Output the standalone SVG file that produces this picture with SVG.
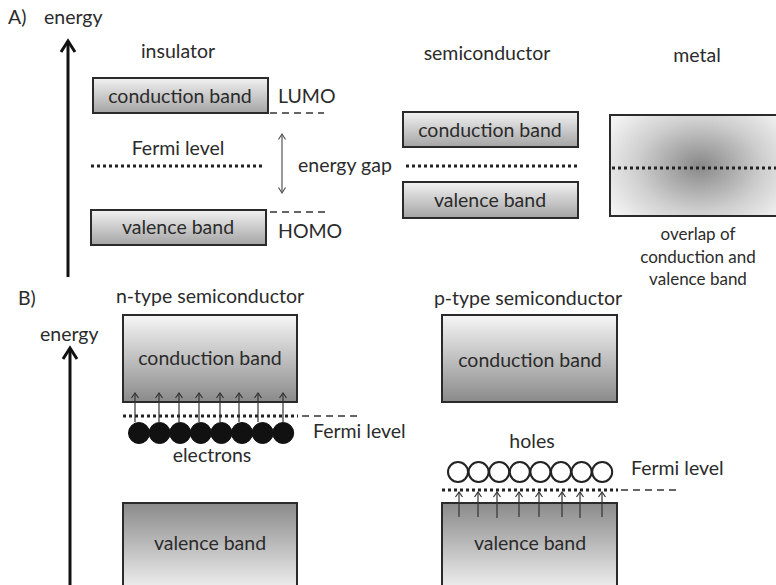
<svg xmlns="http://www.w3.org/2000/svg" width="776" height="585" viewBox="0 0 776 585">
<defs>
<style>
text{font-family:Lato,"Open Sans","Liberation Sans",sans-serif;fill:#2b2b2b;font-size:19.5px}
.m{text-anchor:middle}
.sm{font-size:17px}
.box{stroke:#2a2a2a;stroke-width:2}
.dot{stroke:#222;stroke-width:3;stroke-dasharray:3 3;fill:none}
.dash{stroke:#333;stroke-width:1.5;stroke-dasharray:7 5;fill:none}
.ax{stroke:#111;stroke-width:3;fill:none}
.sa{stroke:#333;stroke-width:1.2;fill:none;marker-end:url(#oa)}
.el{fill:#111;stroke:#111;stroke-width:1}
.ho{fill:#fff;stroke:#222;stroke-width:2}
</style>
<linearGradient id="gA" x1="0" y1="0" x2="0" y2="1"><stop offset="0" stop-color="#f2f2f2"/><stop offset="1" stop-color="#a4a4a4"/></linearGradient>
<linearGradient id="gDown" x1="0" y1="0" x2="0" y2="1"><stop offset="0" stop-color="#f6f6f6"/><stop offset="1" stop-color="#8a8a8a"/></linearGradient>
<linearGradient id="gUp" x1="0" y1="0" x2="0" y2="1"><stop offset="0" stop-color="#8a8a8a"/><stop offset="1" stop-color="#f6f6f6"/></linearGradient>
<radialGradient id="gM" gradientUnits="userSpaceOnUse" cx="700" cy="166" r="105" gradientTransform="translate(700 166) scale(1 0.72) translate(-700 -166)"><stop offset="0" stop-color="#888"/><stop offset="0.6" stop-color="#cfcfcf"/><stop offset="1" stop-color="#f2f2f2"/></radialGradient>
<marker id="oa" markerUnits="userSpaceOnUse" markerWidth="10" markerHeight="10" refX="6" refY="4" orient="auto-start-reverse" overflow="visible"><path d="M1,0.5 L6,4 L1,7.5" fill="none" stroke="#333" stroke-width="1.2"/></marker>
<marker id="ga" markerUnits="userSpaceOnUse" markerWidth="10" markerHeight="10" refX="6" refY="4" orient="auto-start-reverse" overflow="visible"><path d="M0.5,0.5 L6,4 L0.5,7.5" fill="none" stroke="#555" stroke-width="1.2"/></marker>
</defs>
<rect width="776" height="585" fill="#fff"/>

<g id="labels">
<text x="8" y="24">A)</text>
<text x="44" y="24">energy</text>
<text x="18" y="305">B)</text>
<text x="40" y="341">energy</text>
</g>

<g id="insulator">
<text class="m" x="178" y="58">insulator</text>
<rect class="box" x="93" y="78" width="175" height="35" fill="url(#gA)"/>
<text class="m" x="180" y="103">conduction band</text>
<text x="278" y="103">LUMO</text>
<line class="dash" x1="270" y1="113" x2="324" y2="113"/>
<text class="m" x="178" y="155">Fermi level</text>
<line class="dot" x1="91" y1="166" x2="264" y2="166"/>
<text x="298" y="172">energy gap</text>
<line class="dash" x1="270" y1="212" x2="326" y2="212"/>
<rect class="box" x="91" y="210" width="175" height="35" fill="url(#gA)"/>
<text class="m" x="178" y="234">valence band</text>
<text x="278" y="238">HOMO</text>
</g>

<g id="semiconductor">
<text class="m" x="487" y="60">semiconductor</text>
<rect class="box" x="403" y="112" width="175" height="35" fill="url(#gA)"/>
<text class="m" x="490" y="137">conduction band</text>
<line class="dot" x1="406" y1="166" x2="579" y2="166"/>
<rect class="box" x="403" y="182" width="175" height="36" fill="url(#gA)"/>
<text class="m" x="490" y="207">valence band</text>
</g>

<g id="metal">
<text class="m" x="697" y="62">metal</text>
<rect class="box" x="610" y="115" width="172" height="101" fill="url(#gM)"/>
<line class="dot" x1="612" y1="168" x2="776" y2="168"/>
<text class="m sm" x="698" y="240">overlap of</text>
<text class="m sm" x="698" y="263">conduction and</text>
<text class="m sm" x="698" y="285">valence band</text>
</g>

<g id="n-type">
<text class="m" x="210" y="303">n-type semiconductor</text>
<rect class="box" x="123" y="315" width="174" height="87" fill="url(#gDown)"/>
<text class="m" x="210" y="365">conduction band</text>
<line class="dot" x1="123" y1="416" x2="298" y2="416"/>
<line class="dash" x1="302" y1="416" x2="358" y2="416"/>
<g id="electrons">
<circle class="el" cx="139" cy="433" r="10.5"/>
<circle class="el" cx="159.6" cy="433" r="10.5"/>
<circle class="el" cx="180.2" cy="433" r="10.5"/>
<circle class="el" cx="200.8" cy="433" r="10.5"/>
<circle class="el" cx="221.4" cy="433" r="10.5"/>
<circle class="el" cx="242" cy="433" r="10.5"/>
<circle class="el" cx="262.6" cy="433" r="10.5"/>
<circle class="el" cx="283.2" cy="433" r="10.5"/>
</g>
<text x="313" y="438">Fermi level</text>
<text class="m" x="212" y="462">electrons</text>
<rect class="box" x="123" y="503" width="174" height="92" fill="url(#gUp)"/>
<text class="m" x="210" y="550">valence band</text>
</g>

<g id="p-type">
<text class="m" x="528" y="305">p-type semiconductor</text>
<rect class="box" x="442" y="315" width="175" height="87" fill="url(#gDown)"/>
<text class="m" x="530" y="367">conduction band</text>
<text class="m" x="532" y="448">holes</text>
<g id="holes">
<circle class="ho" cx="458" cy="472" r="10"/>
<circle class="ho" cx="478.6" cy="472" r="10"/>
<circle class="ho" cx="499.2" cy="472" r="10"/>
<circle class="ho" cx="519.8" cy="472" r="10"/>
<circle class="ho" cx="540.4" cy="472" r="10"/>
<circle class="ho" cx="561" cy="472" r="10"/>
<circle class="ho" cx="581.6" cy="472" r="10"/>
<circle class="ho" cx="602.2" cy="472" r="10"/>
</g>
<text x="631" y="475">Fermi level</text>
<rect class="box" x="442" y="503" width="175" height="92" fill="url(#gUp)"/>
<line class="dot" x1="442" y1="490" x2="618" y2="490"/>
<line class="dash" x1="621" y1="490" x2="678" y2="490"/>
<text class="m" x="530" y="550">valence band</text>
</g>

<g id="connectors">
<line class="ax" x1="68" y1="277" x2="68" y2="42"/>
<polyline class="ax" points="61,52 68,41 75,52"/>
<line class="ax" x1="70" y1="585" x2="70" y2="349"/>
<polyline class="ax" points="63,359 70,348 77,359"/>
<line x1="282" y1="134" x2="282" y2="193" stroke="#555" stroke-width="1.2" marker-start="url(#ga)" marker-end="url(#ga)"/>
<g id="n-arrows">
<line class="sa" x1="135" y1="422" x2="135" y2="393"/>
<line class="sa" x1="159" y1="422" x2="159" y2="393"/>
<line class="sa" x1="179" y1="422" x2="179" y2="393"/>
<line class="sa" x1="199" y1="422" x2="199" y2="393"/>
<line class="sa" x1="220" y1="422" x2="220" y2="393"/>
<line class="sa" x1="239" y1="422" x2="239" y2="393"/>
<line class="sa" x1="258" y1="422" x2="258" y2="393"/>
<line class="sa" x1="283" y1="422" x2="283" y2="393"/>
</g>
<g id="p-arrows">
<line class="sa" x1="459" y1="517" x2="459" y2="492"/>
<line class="sa" x1="478" y1="517" x2="478" y2="492"/>
<line class="sa" x1="497" y1="518" x2="497" y2="492"/>
<line class="sa" x1="519" y1="517" x2="519" y2="492"/>
<line class="sa" x1="539" y1="517" x2="539" y2="492"/>
<line class="sa" x1="562" y1="517" x2="562" y2="492"/>
<line class="sa" x1="580" y1="518" x2="580" y2="492"/>
<line class="sa" x1="602" y1="517" x2="602" y2="492"/>
</g>
</g>
</svg>
